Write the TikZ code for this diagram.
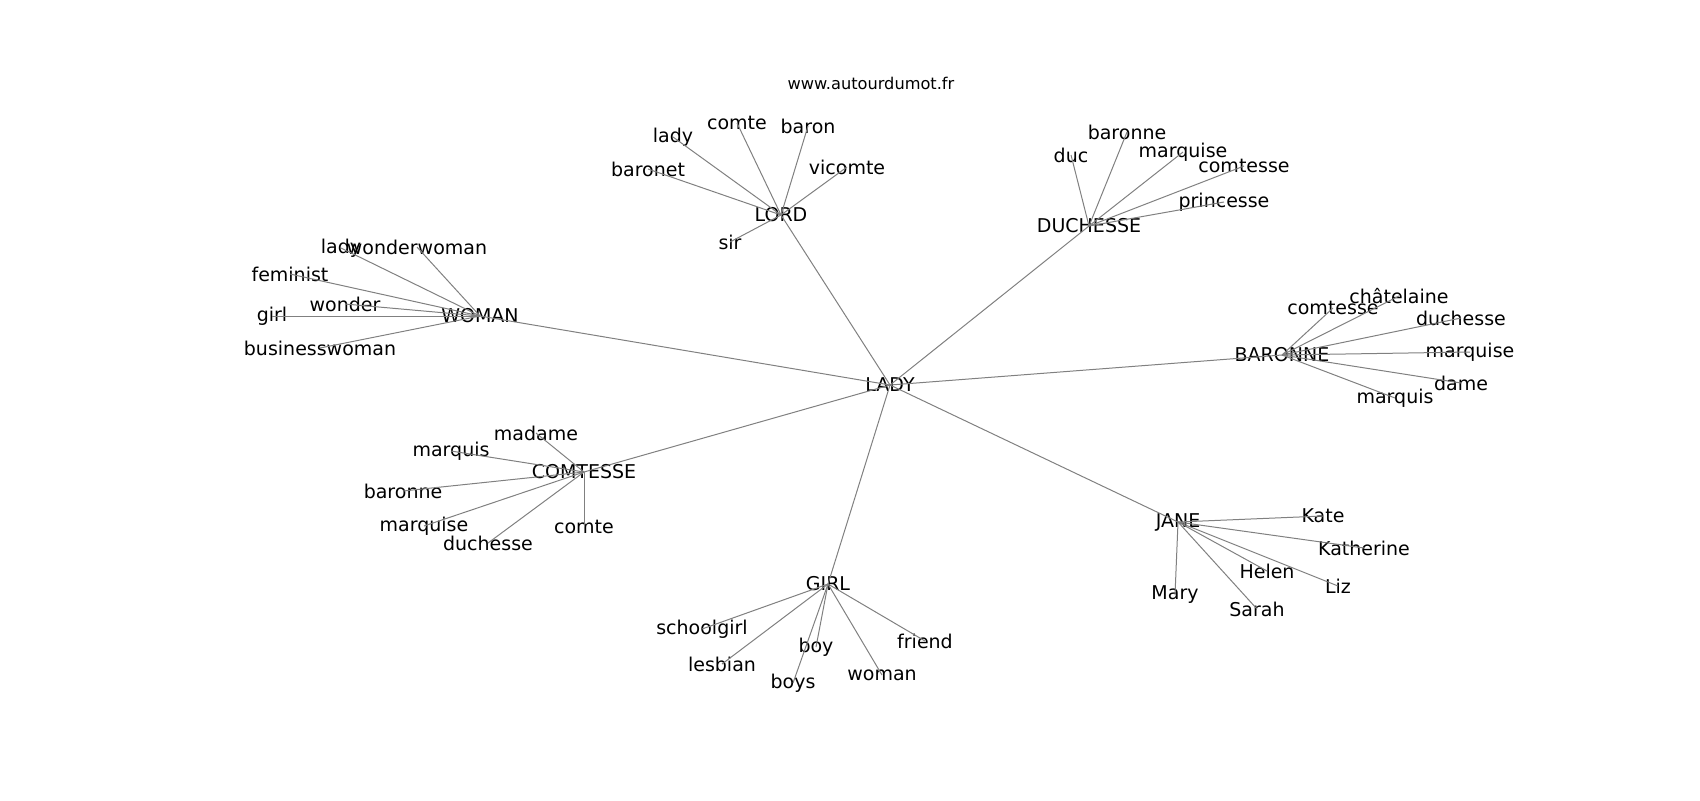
\documentclass[tikz,border=0pt]{standalone}
\usepackage{fontspec}
\setmainfont{DejaVu Sans}

\begin{document}
\begin{tikzpicture}[x=0.5pt,y=-0.5pt,
    word/.style={font=\fontsize{9.5}{11}\selectfont,inner sep=0pt},
    link/.style={draw=gray,line width=0.5pt}]
    \useasboundingbox (0,0) rectangle (1700,800);
    \node [font=\fontsize{8.1}{10}\selectfont] (site) at (871,83) {www.autourdumot.fr};

    \node [word] (lady) at (890,385) {LADY};
    \node [word] (woman) at (480,316) {WOMAN};
    \node [word] (lord) at (781,215) {LORD};
    \node [word] (duchesse) at (1089,226) {DUCHESSE};
    \node [word] (baronne) at (1282,355) {BARONNE};
    \node [word] (comtesse) at (584,472) {COMTESSE};
    \node [word] (jane) at (1178,522) {JANE};
    \node [word] (girl) at (828,584) {GIRL};

    \node [word] (wlady) at (341,248) {lady};
    \node [word] (wwonderwoman) at (417,247) {wonderwoman};
    \node [word] (wfeminist) at (290,274) {feminist};
    \node [word] (wwonder) at (345,304) {wonder};
    \node [word] (wgirl) at (272,316) {girl};
    \node [word] (wbusinesswoman) at (320,348) {businesswoman};

    \node [word] (llady) at (673,137) {lady};
    \node [word] (lcomte) at (737,123) {comte};
    \node [word] (lbaron) at (808,126) {baron};
    \node [word] (lvicomte) at (847,167) {vicomte};
    \node [word] (lbaronet) at (648,169) {baronet};
    \node [word] (lsir) at (730,242) {sir};

    \node [word] (dduc) at (1071,155) {duc};
    \node [word] (dbaronne) at (1127,132) {baronne};
    \node [word] (dmarquise) at (1183,152) {marquise};
    \node [word] (dcomtesse) at (1244,166) {comtesse};
    \node [word] (dprincesse) at (1224,202) {princesse};

    \node [word] (bcomtesse) at (1333,308) {comtesse};
    \node [word] (bchatelaine) at (1399,296) {châtelaine};
    \node [word] (bduchesse) at (1461,318) {duchesse};
    \node [word] (bmarquise) at (1470,352) {marquise};
    \node [word] (bdame) at (1461,383) {dame};
    \node [word] (bmarquis) at (1395,398) {marquis};

    \node [word] (cmadame) at (536,433) {madame};
    \node [word] (cmarquis) at (451,451) {marquis};
    \node [word] (cbaronne) at (403,491) {baronne};
    \node [word] (cmarquise) at (424,526) {marquise};
    \node [word] (cduchesse) at (488,543) {duchesse};
    \node [word] (ccomte) at (584,527) {comte};

    \node [word] (jkate) at (1323,516) {Kate};
    \node [word] (jkatherine) at (1364,548) {Katherine};
    \node [word] (jhelen) at (1267,571) {Helen};
    \node [word] (jliz) at (1338,586) {Liz};
    \node [word] (jmary) at (1175,595) {Mary};
    \node [word] (jsarah) at (1257,609) {Sarah};

    \node [word] (gschoolgirl) at (702,629) {schoolgirl};
    \node [word] (glesbian) at (722,664) {lesbian};
    \node [word] (gboy) at (816,647) {boy};
    \node [word] (gboys) at (793,683) {boys};
    \node [word] (gwoman) at (882,675) {woman};
    \node [word] (gfriend) at (925,641) {friend};

    \path (lady.center) edge [link] (woman.center) edge [link] (lord.center)
      edge [link] (duchesse.center) edge [link] (baronne.center)
      edge [link] (comtesse.center) edge [link] (jane.center) edge [link] (girl.center);
    \path (woman.center) edge [link] (wlady.center) edge [link] (wwonderwoman.center)
      edge [link] (wfeminist.center) edge [link] (wwonder.center)
      edge [link] (wgirl.center) edge [link] (wbusinesswoman.center);
    \path (lord.center) edge [link] (llady.center) edge [link] (lcomte.center)
      edge [link] (lbaron.center) edge [link] (lvicomte.center)
      edge [link] (lbaronet.center) edge [link] (lsir.center);
    \path (duchesse.center) edge [link] (dduc.center) edge [link] (dbaronne.center)
      edge [link] (dmarquise.center) edge [link] (dcomtesse.center)
      edge [link] (dprincesse.center);
    \path (baronne.center) edge [link] (bcomtesse.center) edge [link] (bchatelaine.center)
      edge [link] (bduchesse.center) edge [link] (bmarquise.center)
      edge [link] (bdame.center) edge [link] (bmarquis.center);
    \path (comtesse.center) edge [link] (cmadame.center) edge [link] (cmarquis.center)
      edge [link] (cbaronne.center) edge [link] (cmarquise.center)
      edge [link] (cduchesse.center) edge [link] (ccomte.center);
    \path (jane.center) edge [link] (jkate.center) edge [link] (jkatherine.center)
      edge [link] (jhelen.center) edge [link] (jliz.center)
      edge [link] (jmary.center) edge [link] (jsarah.center);
    \path (girl.center) edge [link] (gschoolgirl.center) edge [link] (glesbian.center)
      edge [link] (gboy.center) edge [link] (gboys.center)
      edge [link] (gwoman.center) edge [link] (gfriend.center);
  \end{tikzpicture}
\end{document}
